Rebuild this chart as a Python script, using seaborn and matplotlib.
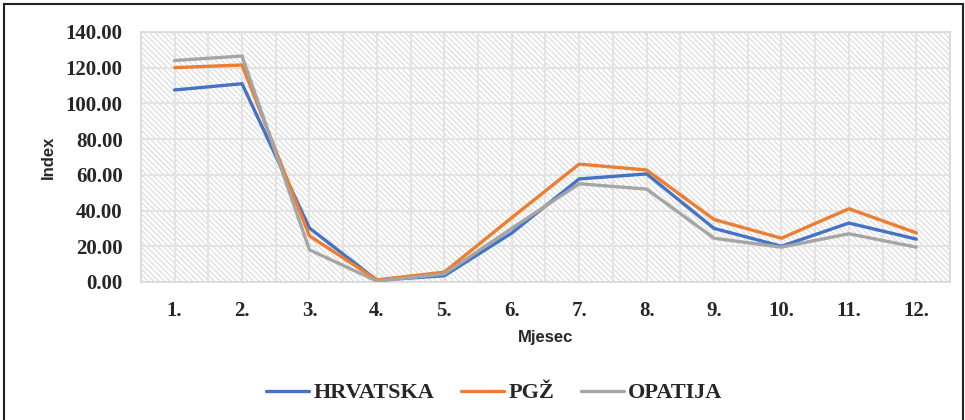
import pandas as pd
import numpy as np
import matplotlib
matplotlib.use('Agg')
import matplotlib.pyplot as plt
import seaborn as sb
from matplotlib.patches import Rectangle
from matplotlib.ticker import FormatStrFormatter, MultipleLocator

months = [1, 2, 3, 4, 5, 6, 7, 8, 9, 10, 11, 12]
month_labels = ['1.', '2.', '3.', '4.', '5.', '6.', '7.', '8.', '9.', '10.', '11.', '12.']
hrvatska = [107.5, 111.0, 30.2, 1.0, 3.5, 27.4, 57.7, 60.5, 30.0, 20.0, 33.0, 24.0]
pgz = [120.0, 121.5, 25.8, 1.2, 5.5, 36.0, 66.0, 62.7, 35.0, 24.5, 41.0, 27.5]
opatija = [124.0, 126.5, 18.0, 0.5, 4.5, 30.0, 55.0, 52.0, 24.5, 19.5, 27.0, 19.5]
series_names = ['HRVATSKA', 'PGŽ', 'OPATIJA']
colores = ['#4472C4', '#ED7D31', '#A5A5A5']

dataframe = pd.DataFrame({
    'Mjesec': months * 3,
    'Index': hrvatska + pgz + opatija,
    'serija': [n for n in series_names for _ in months],
})

sb.set_style('white')
plt.rcParams['hatch.linewidth'] = 0.7
plt.rcParams['hatch.color'] = '#d6d6d6'

fig = plt.figure(figsize=(9.65, 4.2), dpi=100)
ax = fig.add_axes([0.146, 0.3286, 0.8385, 0.5954])

# hatched plot background
ax.add_patch(Rectangle((0, 0), 1, 1, transform=ax.transAxes, facecolor='white',
                       edgecolor='#d6d6d6', hatch='\\' * 6, linewidth=0, zorder=0))
ax.set_axisbelow(True)

sb.lineplot(data=dataframe, x='Mjesec', y='Index', hue='serija', palette=colores,
            linewidth=2.4, ax=ax, legend=False, zorder=3)

ax.set_xlim(0.5, 12.5)
ax.set_ylim(0, 140)
ax.set_xticks(months)
ax.set_xticklabels(month_labels)
ax.xaxis.set_minor_locator(MultipleLocator(0.5))
ax.yaxis.set_major_locator(MultipleLocator(20))
ax.yaxis.set_major_formatter(FormatStrFormatter('%.2f'))
ax.grid(True, which='major', axis='y', color='#e3e3e3', linewidth=1.5, zorder=1)
ax.grid(True, which='both', axis='x', color='#e3e3e3', linewidth=1.5, zorder=1)
ax.tick_params(axis='both', which='both', length=0)
ax.tick_params(axis='y', pad=13)
ax.tick_params(axis='x', pad=14)
for lab in ax.get_xticklabels() + ax.get_yticklabels():
    lab.set_fontfamily('Liberation Serif')
    lab.set_fontweight('bold')
    lab.set_fontsize(15)
for s in ax.spines.values():
    s.set_color('#d9d9d9')
    s.set_linewidth(1.2)

ax.set_xlabel('Mjesec', fontfamily='Liberation Sans', fontweight='bold', fontsize=12, labelpad=6)
ax.set_ylabel('Index', fontfamily='Liberation Sans', fontweight='bold', fontsize=12, labelpad=7)

handles = [plt.Line2D([], [], color=c, linewidth=2.4) for c in colores]
fig.legend(handles, series_names, loc='center', bbox_to_anchor=(0.512, 0.064), ncol=3,
           frameon=False, handlelength=1.95, handletextpad=0.18, columnspacing=1.2,
           prop={'family': 'Liberation Serif', 'weight': 'bold', 'size': 16})

# outer frame
fig.patches.append(Rectangle((0.004, -0.05), 0.994, 1.04, transform=fig.transFigure,
                             fill=False, edgecolor='#222222', linewidth=1.5))

fig.savefig('out.png', dpi=100)
